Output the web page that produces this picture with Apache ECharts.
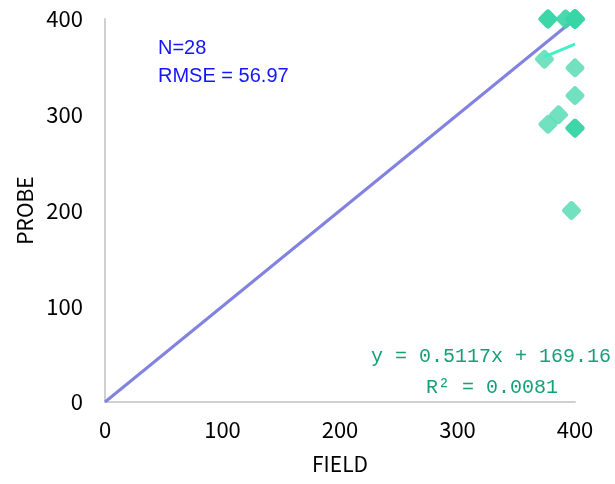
<!DOCTYPE html>
<html><head><meta charset="utf-8">
<script src="https://cdn.jsdelivr.net/npm/echarts@6/dist/echarts.min.js"></script>
<style>html,body{margin:0;padding:0;background:#fff}#c{width:615px;height:484px}</style>
</head><body><div id="c"></div>
<script>
// Data (FIELD, PROBE); duplicates overlap at the same spot
const fieldValues = [400,400,400,400,400,400,400,400,400,400,400,400,400,400,377,377,377,392,392,374,400,400,386,377,400,400,400,397];
const probeValues = [400,400,400,400,400,400,400,400,400,400,400,400,400,400,400,400,400,400,400,358,349,320,300,290,286,286,286,200];
const xTicks = [0,100,200,300,400];
const yTicks = [0,100,200,300,400];
const oneToOne = [0,400];
const trendSlope = 0.5117, trendIntercept = 169.16;
const statsLines = ['N=28','RMSE = 56.97'];
const eqLines = ['y = 0.5117x + 169.16','R² = 0.0081'];

const pts = fieldValues.map((x,i)=>[x,probeValues[i]]);
const xmin = Math.min(...fieldValues), xmax = Math.max(...fieldValues);
const trend = [[xmin, trendSlope*xmin+trendIntercept],[xmax, trendSlope*xmax+trendIntercept]];
const diag = oneToOne.map(v=>[v,v]);
const numFont = '"Noto Sans CJK JP",sans-serif';
const rdiamond = 'path://M8,2 Q10,0 12,2 L18,8 Q20,10 18,12 L12,18 Q10,20 8,18 L2,12 Q0,10 2,8 Z';

const chart = echarts.init(document.getElementById('c'));
chart.setOption({
  animation:false,
  grid:{left:105,right:40,top:19,bottom:82},
  xAxis:{type:'value',min:xTicks[0],max:xTicks[xTicks.length-1],interval:100,
    name:'FIELD',nameLocation:'middle',nameGap:52,
    nameTextStyle:{fontFamily:numFont,fontSize:21,color:'#000'},
    axisLine:{show:true,lineStyle:{color:'#d0d0d0',width:2}},axisTick:{show:false},
    splitLine:{show:false},
    axisLabel:{fontFamily:numFont,fontSize:22,color:'#000',margin:17}},
  yAxis:{type:'value',min:yTicks[0],max:yTicks[yTicks.length-1],interval:100,
    name:'PROBE',nameLocation:'middle',nameGap:66,nameRotate:90,
    nameTextStyle:{fontFamily:numFont,fontSize:21,color:'#000'},
    axisLine:{show:true,lineStyle:{color:'#d0d0d0',width:2}},axisTick:{show:false},
    splitLine:{show:false},
    axisLabel:{fontFamily:numFont,fontSize:22,color:'#000',margin:22}},
  series:[
    {type:'line',data:diag,symbol:'none',lineStyle:{color:'#8282e0',width:3},z:2},
    {type:'scatter',data:pts,symbol:rdiamond,symbolSize:19,
      itemStyle:{color:'#3ad6a6',opacity:0.72},z:3},
    {type:'line',data:trend,symbol:'none',lineStyle:{color:'#3ef2c6',width:3},z:4}
  ],
  graphic:[
    {type:'text',left:158,top:34,style:{text:statsLines.join('\n'),fill:'#1414ff',
      font:'20px "Liberation Sans",sans-serif',lineHeight:28}},
    {type:'text',x:491,y:357,style:{text:eqLines[0],fill:'#17a078',
      font:'20px "Liberation Mono",monospace',align:'center',verticalAlign:'middle'}},
    {type:'text',x:492,y:388,style:{text:eqLines[1],fill:'#17a078',
      font:'20px "Liberation Mono",monospace',align:'center',verticalAlign:'middle'}}
  ]
});
</script></body></html>
